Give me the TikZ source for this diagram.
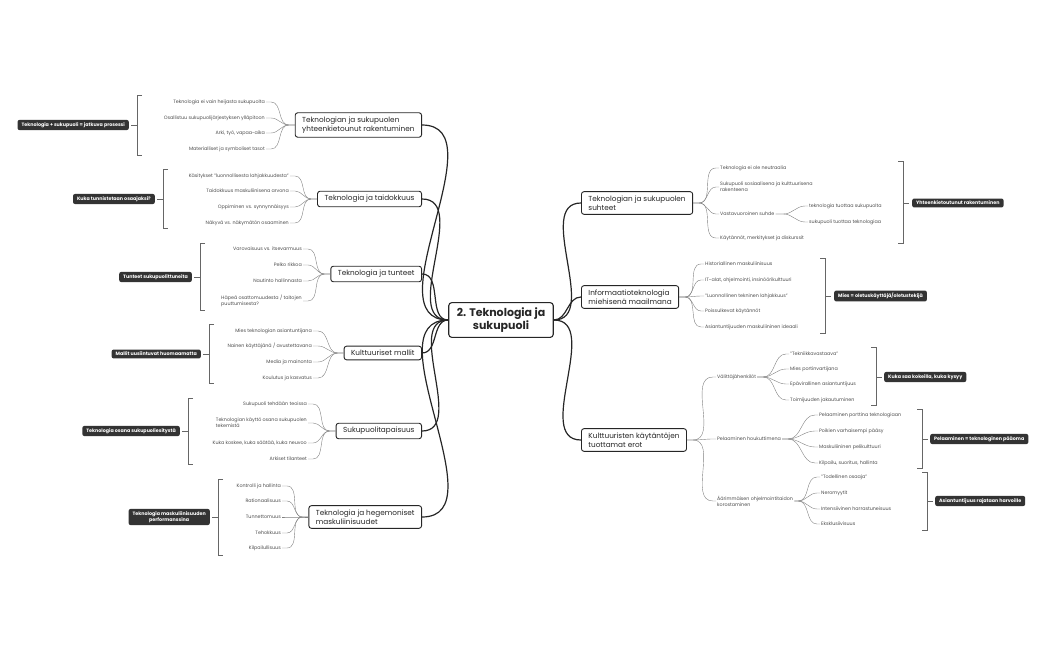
\documentclass[tikz,border=0pt]{standalone}
\usepackage{fontspec}
\setmainfont{Poppins}
\begin{document}
\begin{tikzpicture}[x=1pt,y=-1pt,
 topic/.style={draw=black!85,line width=0.9pt,rounded corners=2.5pt,fill=white,font=\fontsize{7.3}{9}\selectfont,align=left,inner xsep=7pt,inner ysep=4pt,text=black!85},
 central/.style={draw=black!85,line width=1.1pt,rounded corners=3pt,fill=white,font=\fontsize{11}{13}\selectfont\bfseries,align=center,inner xsep=8pt,inner ysep=5pt,text=black!85},
 kid/.style={font=\fontsize{4.8}{6}\selectfont,text=black!70,align=left,inner sep=1pt},
 kl/.style={kid,anchor=east},
 kr/.style={kid,anchor=west},
 summ/.style={fill=black!80,text=white,rounded corners=2pt,font=\fontsize{4.8}{6}\selectfont\bfseries,align=center,inner xsep=4pt,inner ysep=2.5pt},
 main/.style={line width=1.2pt,black!85},
 thin/.style={line width=0.4pt,black!50},
 brk/.style={line width=0.6pt,black!60}]
\useasboundingbox (0,0) rectangle (1050,650);
\node[central] (C) at (501,320) {2. Teknologia ja\\sukupuoli};
% left topics
\node[topic,anchor=east] (T1) at (422,125) {Teknologian ja sukupuolen\\yhteenkietounut rakentuminen};
\node[topic,anchor=east] (T2) at (422,199) {Teknologia ja taidokkuus};
\node[topic,anchor=east] (T3) at (422,274) {Teknologia ja tunteet};
\node[topic,anchor=east] (T4) at (422,353) {Kulttuuriset mallit};
\node[topic,anchor=east] (T5) at (422,431) {Sukupuolitapaisuus};
\node[topic,anchor=east] (T6) at (422,517) {Teknologia ja hegemoniset\\maskuliinisuudet};
% right topics
\node[topic,anchor=west] (R1) at (581,203) {Teknologian ja sukupuolen\\suhteet};
\node[topic,anchor=west] (R2) at (581,297) {Informaatioteknologia\\miehisenä maailmana};
\node[topic,anchor=west] (R3) at (581,440) {Kulttuuristen käytäntöjen\\tuottamat erot};
\foreach \t in {T1,T2,T3,T4,T5,T6} \draw[main] (C.west) to[out=180,in=0] (\t.east);
\foreach \t in {R1,R2,R3} \draw[main] (C.east) to[out=0,in=180] (\t.west);
% T1
\node[kl] (a1) at (266,102) {Teknologia ei vain heijasta sukupuolta};
\node[kl] (a2) at (266,118) {Osallistuu sukupuolijärjestyksen ylläpitoon};
\node[kl] (a3) at (266,133) {Arki, työ, vapaa-aika};
\node[kl] (a4) at (266,149) {Materialliset ja symboliset tasot};
\foreach \c in {a1,a2,a3,a4} \draw[thin] (T1.west) -- ++(-6,0) to[out=180,in=0] ([xshift=5pt]\c.east) -- (\c.east);
\draw[brk] (142,95) -- (137,95) -- (137,155) -- (142,155) (137,125) -- (131,125);
\node[summ,anchor=east] (s1) at (129,125) {Teknologia + sukupuoli = jatkuva prosessi};
% T2
\node[kl] (b1) at (290,176) {Käsitykset ”luonnollisesta lahjakkuudesta”};
\node[kl] (b2) at (290,191) {Taidokkuus maskuliinisena arvona};
\node[kl] (b3) at (290,207) {Oppiminen vs. synnynnäisyys};
\node[kl] (b4) at (290,223) {Näkyvä vs. näkymätön osaaminen};
\foreach \c in {b1,b2,b3,b4} \draw[thin] (T2.west) -- ++(-6,0) to[out=180,in=0] ([xshift=5pt]\c.east) -- (\c.east);
\draw[brk] (168,169) -- (163,169) -- (163,228) -- (168,228) (163,199) -- (157,199);
\node[summ,anchor=east] (s2) at (155,199) {Kuka tunnistetaan osaajaksi?};
% T3
\node[kl] (c1) at (303,249) {Varovaisuus vs. itsevarmuus};
\node[kl] (c2) at (303,265) {Pelko rikkoa};
\node[kl] (c3) at (303,281) {Nautinto hallinnasta};
\node[kl] (c4) at (303,301) {Häpeä osattomuudesta / taitojen\\puuttumisesta?};
\foreach \c in {c1,c2,c3,c4} \draw[thin] (T3.west) -- ++(-6,0) to[out=180,in=0] ([xshift=5pt]\c.east) -- (\c.east);
\draw[brk] (205,243) -- (200,243) -- (200,310) -- (205,310) (200,277) -- (194,277);
\node[summ,anchor=east] (s3) at (192,277) {Tunteet sukupuolittuneita};
% T4
\node[kl] (d1) at (313,331) {Mies teknologian asiantuntijana};
\node[kl] (d2) at (313,346) {Nainen käyttäjänä / avustettavana};
\node[kl] (d3) at (313,362) {Media ja mainonta};
\node[kl] (d4) at (313,378) {Koulutus ja kasvatus};
\foreach \c in {d1,d2,d3,d4} \draw[thin] (T4.west) -- ++(-6,0) to[out=180,in=0] ([xshift=5pt]\c.east) -- (\c.east);
\draw[brk] (214,324) -- (209,324) -- (209,383) -- (214,383) (209,354) -- (203,354);
\node[summ,anchor=east] (s4) at (201,354) {Mallit uusiintuvat huomaamatta};
% T5
\node[kl] (e1) at (308,404) {Sukupuoli tehdään teoissa};
\node[kl] (e2) at (308,423) {Teknologian käyttö osana sukupuolen\\tekemistä};
\node[kl] (e3) at (308,443) {Kuka koskee, kuka säätää, kuka neuvoo};
\node[kl] (e4) at (308,459) {Arkiset tilanteet};
\foreach \c in {e1,e2,e3,e4} \draw[thin] (T5.west) -- ++(-6,0) to[out=180,in=0] ([xshift=5pt]\c.east) -- (\c.east);
\draw[brk] (193,398) -- (188,398) -- (188,464) -- (193,464) (188,431) -- (182,431);
\node[summ,anchor=east] (s5) at (180,431) {Teknologia osana sukupuoliesitystä};
% T6
\node[kl] (f1) at (282,486) {Kontrolli ja hallinta};
\node[kl] (f2) at (282,501) {Rationaalisuus};
\node[kl] (f3) at (282,517) {Tunnettomuus};
\node[kl] (f4) at (282,533) {Tehokkuus};
\node[kl] (f5) at (282,548) {Kilpailullisuus};
\foreach \c in {f1,f2,f3,f4,f5} \draw[thin] (T6.west) -- ++(-6,0) to[out=180,in=0] ([xshift=5pt]\c.east) -- (\c.east);
\draw[brk] (223,479) -- (218,479) -- (218,555) -- (223,555) (218,517) -- (212,517);
\node[summ,anchor=east] (s6) at (210,517) {Teknologia maskuliinisuuden\\performanssina};
% R1
\node[kr] (g1) at (719,168) {Teknologia ei ole neutraalia};
\node[kr] (g2) at (719,187) {Sukupuoli sosiaalisena ja kulttuurisena\\rakenteena};
\node[kr] (g3) at (719,214) {Vastavuoroinen suhde};
\node[kr] (g4) at (719,238) {Käytännöt, merkitykset ja diskurssit};
\foreach \c in {g1,g2,g3,g4} \draw[thin] (R1.east) -- ++(6,0) to[out=0,in=180] ([xshift=-3pt]\c.west) -- (\c.west);
\node[kr] (g31) at (808,206) {teknologia tuottaa sukupuolta};
\node[kr] (g32) at (808,222) {sukupuoli tuottaa teknologiaa};
\foreach \c in {g31,g32} \draw[thin] (g3.east) -- ++(8,0) to[out=0,in=180] ([xshift=-3pt]\c.west) -- (\c.west);
\draw[brk] (898,161) -- (903,161) -- (903,243) -- (898,243) (903,203) -- (909,203);
\node[summ,anchor=west] (s7) at (912,203) {Yhteenkietoutunut rakentuminen};
% R2
\node[kr] (h1) at (704,264) {Historiallinen maskuliinisuus};
\node[kr] (h2) at (704,280) {IT-alat, ohjelmointi, insinöörikulttuuri};
\node[kr] (h3) at (704,296) {”Luonnollinen tekninen lahjakkuus”};
\node[kr] (h4) at (704,311) {Poissulkevat käytännöt};
\node[kr] (h5) at (704,327) {Asiantuntijuuden maskuliininen ideaali};
\foreach \c in {h1,h2,h3,h4,h5} \draw[thin] (R2.east) -- ++(6,0) to[out=0,in=180] ([xshift=-3pt]\c.west) -- (\c.west);
\draw[brk] (820,258) -- (825,258) -- (825,333) -- (820,333) (825,296) -- (831,296);
\node[summ,anchor=west] (s8) at (834,296) {Mies = oletuskäyttäjä/oletustekijä};
% R3
\node[kr] (i1) at (716,377) {Välittäjähenkilöt};
\node[kr] (i2) at (716,439) {Pelaaminen houkuttimena};
\node[kr] (i3) at (716,501) {Äärimmäisen ohjelmointitaidon\\korostaminen};
\foreach \c in {i1,i2,i3} \draw[thin] (R3.east) -- ++(6,0) to[out=0,in=180] ([xshift=-3pt]\c.west) -- (\c.west);
\node[kr] (j1) at (789,354) {”Tekniikkavastaava”};
\node[kr] (j2) at (789,369) {Mies portinvartijana};
\node[kr] (j3) at (789,384) {Epävirallinen asiantuntijuus};
\node[kr] (j4) at (789,400) {Toimijuuden jakautuminen};
\foreach \c in {j1,j2,j3,j4} \draw[thin] (i1.east) -- ++(6,0) to[out=0,in=180] ([xshift=-3pt]\c.west) -- (\c.west);
\draw[brk] (871,347) -- (876,347) -- (876,405) -- (871,405) (876,377) -- (882,377);
\node[summ,anchor=west] (s9) at (884,377) {Kuka saa kokeilla, kuka kysyy};
\node[kr] (k1) at (818,415) {Pelaaminen porttina teknologiaan};
\node[kr] (k2) at (818,431) {Poikien varhaisempi pääsy};
\node[kr] (k3) at (818,447) {Maskuliininen pelikulttuuri};
\node[kr] (k4) at (818,463) {Kilpailu, suoritus, hallinta};
\foreach \c in {k1,k2,k3,k4} \draw[thin] (i2.east) -- ++(6,0) to[out=0,in=180] ([xshift=-3pt]\c.west) -- (\c.west);
\draw[brk] (917,409) -- (922,409) -- (922,468) -- (917,468) (922,439) -- (928,439);
\node[summ,anchor=west] (s10) at (930,439) {Pelaaminen = teknologinen pääoma};
\node[kr] (l1) at (820,477) {”Todellinen osaaja”};
\node[kr] (l2) at (820,493) {Neromyytit};
\node[kr] (l3) at (820,509) {Intensiivinen harrastuneisuus};
\node[kr] (l4) at (820,524) {Eksklusiivisuus};
\foreach \c in {l1,l2,l3,l4} \draw[thin] (i3.east) -- ++(4,0) to[out=0,in=180] ([xshift=-3pt]\c.west) -- (\c.west);
\draw[brk] (922,472) -- (927,472) -- (927,530) -- (922,530) (927,501) -- (933,501);
\node[summ,anchor=west] (s11) at (935,501) {Asiantuntijuus rajataan harvoille};
\end{tikzpicture}
\end{document}
